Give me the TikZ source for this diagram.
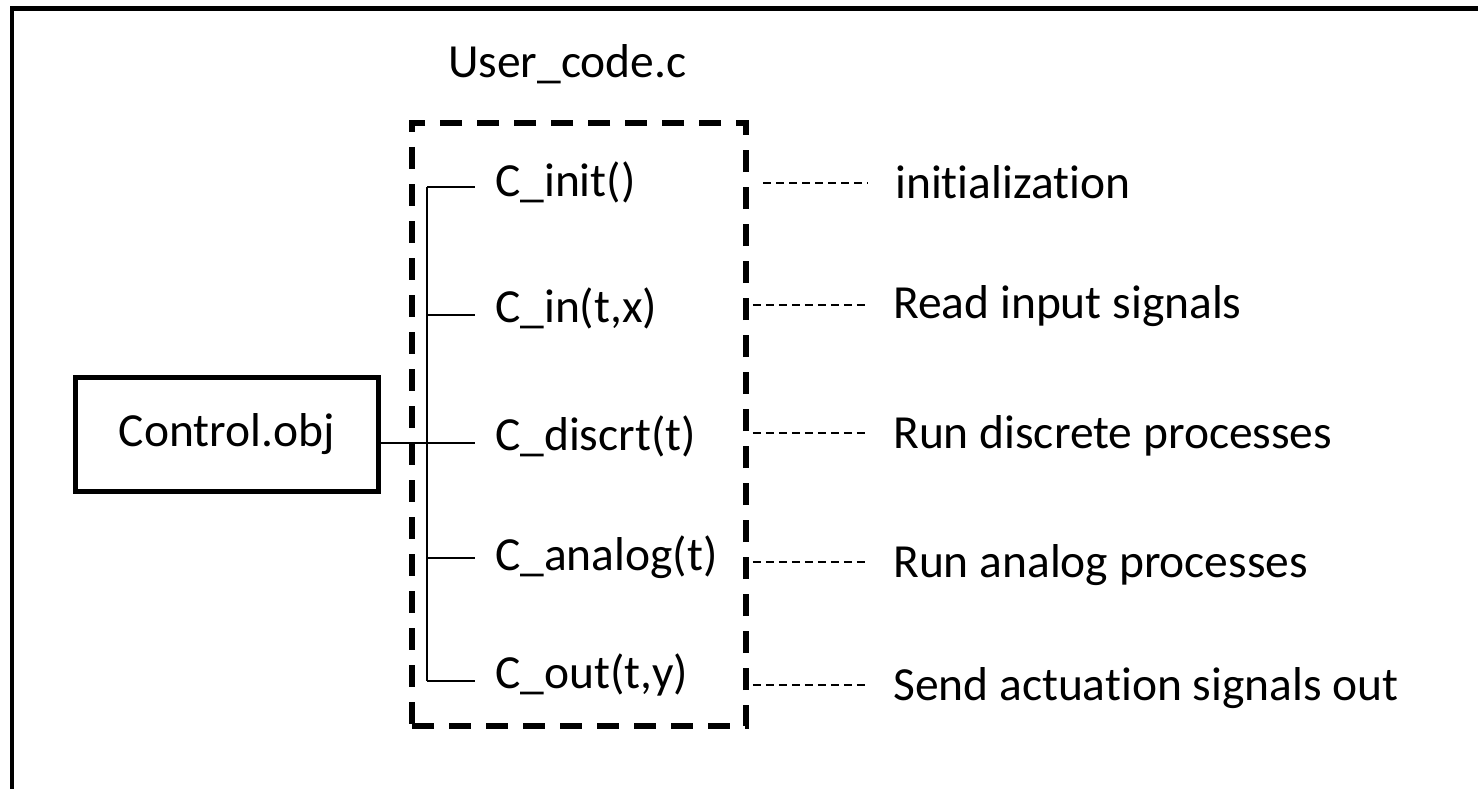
\documentclass[tikz,border=0pt]{standalone}
\usepackage{fontspec}
\setmainfont{Carlito}[Ligatures={NoCommon,NoContextual}]
\begin{document}
\begin{tikzpicture}[x=1pt,y=-1pt,
  every node/.style={font=\fontsize{47.5}{57}\selectfont, inner sep=0pt},
  frameline/.style={line width=4.8pt, line join=miter},
  objbox/.style={draw, line width=5pt, minimum width=303.5pt, minimum height=114pt},
  codebox/.style={draw, line width=5.5pt, dash pattern=on 22pt off 15pt, minimum width=334pt, minimum height=603pt},
  treeline/.style={line width=2.2pt},
  dotline/.style={line width=1.8pt, dash pattern=on 8pt off 5pt},
  fn/.style={anchor=base west},
  lbl/.style={anchor=base west}]
\useasboundingbox (0,0) rectangle (1478,789);
% outer frame
\draw[frameline] (1478,8.5) -- (12,8.5) -- (12,789);
% nodes
\node[objbox] (ctrl) at (226.75,434.5) {Control.obj};
\node[codebox] (ub) at (579,424.5) {};
\node[anchor=base west] (title) at (448,78) {User\_code.c};
\node[fn] (f1) at (495,196) {C\_init()};
\node[fn] (f2) at (495,322) {C\_in(t,x)};
\node[fn] (f3) at (495,450) {C\_discrt(t)};
\node[fn] (f4) at (495,570) {C\_analog(t)};
\node[fn] (f5) at (495,688) {C\_out(t,y)};
\node[lbl] (l1) at (895,198) {initialization};
\node[lbl] (l2) at (893,318) {Read input signals};
\node[lbl] (l3) at (893,448) {Run discrete processes};
\node[lbl] (l4) at (893,577) {Run analog processes};
\node[lbl] (l5) at (893,700) {Send actuation signals out};
% tree coordinates
\coordinate (t1) at (427,187);
\coordinate (t2) at (427,315);
\coordinate (t3) at (427,443);
\coordinate (t4) at (427,558);
\coordinate (t5) at (427,681);
\coordinate (b1) at (475,187);
\coordinate (b2) at (475,315);
\coordinate (b3) at (475,443);
\coordinate (b4) at (475,558);
\coordinate (b5) at (475,681);
\draw[treeline] (t1) -- (t5);
\draw[treeline] (t1) -- (b1);
\draw[treeline] (t2) -- (b2);
\draw[treeline] (t3) -- (b3);
\draw[treeline] (t4) -- (b4);
\draw[treeline] (t5) -- (b5);
\draw[treeline] (ctrl.east |- t3) -- (t3);
% dotted connectors
\coordinate (d1) at (868,183);
\coordinate (d2) at (866,305);
\coordinate (d3) at (866,433);
\coordinate (d4) at (866,562);
\coordinate (d5) at (866,685);
\draw[dotline] (763,183) -- (d1);
\draw[dotline] (ub.east |- d2) ++(4,0) -- (d2);
\draw[dotline] (ub.east |- d3) ++(4,0) -- (d3);
\draw[dotline] (ub.east |- d4) ++(4,0) -- (d4);
\draw[dotline] (ub.east |- d5) ++(4,0) -- (d5);
\end{tikzpicture}
\end{document}
